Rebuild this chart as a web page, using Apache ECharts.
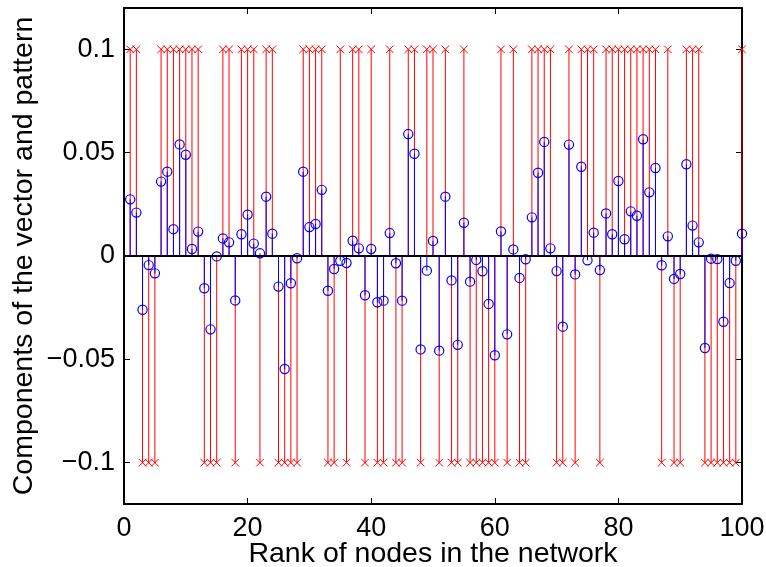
<!DOCTYPE html>
<html>
<head>
<meta charset="utf-8">
<script src="https://cdn.jsdelivr.net/npm/echarts@6/dist/echarts.min.js"></script>
<style>
  html, body { margin: 0; padding: 0; background: #fff; }
  #chart { width: 766px; height: 567px; }
</style>
</head>
<body>
<div id="chart"></div>
<script>
// stem plot: node components (blue o) vs. +-0.1 pattern (red x), ranks 1..100

const RANKS = Array.from({ length: 100 }, (_, i) => i + 1);

// sign of the stored pattern, one per rank
const PATTERN_SIGN = [
   1,  1, -1, -1, -1,  1,  1,  1,  1,  1,
   1,  1, -1, -1, -1,  1,  1, -1,  1,  1,
   1, -1,  1,  1, -1, -1, -1, -1,  1,  1,
   1,  1, -1, -1,  1, -1,  1,  1, -1,  1,
  -1, -1,  1, -1, -1,  1,  1, -1,  1,  1,
  -1,  1, -1, -1,  1, -1, -1, -1, -1, -1,
   1, -1,  1, -1, -1,  1,  1,  1,  1, -1,
  -1,  1, -1,  1,  1,  1, -1,  1,  1,  1,
   1,  1,  1,  1,  1,  1, -1,  1, -1, -1,
   1,  1,  1, -1, -1, -1, -1, -1, -1,  1,
];
const PATTERN_AMP = 0.1;

// components of the vector
const VECTOR = [
   0.0274,  0.0210, -0.0260, -0.0044, -0.0084,  0.0360,  0.0408,  0.0130,  0.0540,  0.0490,
   0.0034,  0.0118, -0.0156, -0.0355, -0.0002,  0.0085,  0.0066, -0.0215,  0.0105,  0.0200,
   0.0060,  0.0013,  0.0287,  0.0108, -0.0148, -0.0547, -0.0132, -0.0011,  0.0408,  0.0140,
   0.0155,  0.0320, -0.0168, -0.0063, -0.0023, -0.0034,  0.0074,  0.0037, -0.0190,  0.0034,
  -0.0224, -0.0216,  0.0111, -0.0035, -0.0216,  0.0590,  0.0495, -0.0452, -0.0071,  0.0073,
  -0.0458,  0.0287, -0.0118, -0.0430,  0.0161, -0.0124, -0.0019, -0.0074, -0.0232, -0.0480,
   0.0119, -0.0379,  0.0032, -0.0106, -0.0016,  0.0187,  0.0403,  0.0552,  0.0037, -0.0073,
  -0.0342,  0.0539, -0.0089,  0.0432, -0.0021,  0.0113, -0.0068,  0.0206,  0.0105,  0.0363,
   0.0081,  0.0216,  0.0195,  0.0565,  0.0308,  0.0426, -0.0045,  0.0095, -0.0111, -0.0087,
   0.0444,  0.0147,  0.0066, -0.0445, -0.0013, -0.0015, -0.0318, -0.0131, -0.0023,  0.0108,
];

const Y_TICKS = [-0.1, -0.05, 0, 0.05, 0.1];
const Y_TICK_LABELS = ["\u22120.1", "\u22120.05", "0", "0.05", "0.1"];

const RED = "#ff0000";
const BLUE = "#0000ff";
const FONT = "Liberation Sans, Arial, Helvetica, sans-serif";

const patternData = RANKS.map((r, i) => [r, PATTERN_SIGN[i] * PATTERN_AMP]);
const vectorData = RANKS.map((r, i) => [r, VECTOR[i]]);

// stem line from 0 to value plus a marker at the tip ('x' or 'o')
function stemSeries(name, data, color, marker, z) {
  return {
    name, type: "custom", data, silent: true, z,
    renderItem(params, api) {
      const x = api.value(0), v = api.value(1);
      const p0 = api.coord([x, 0]);
      const p1 = api.coord([x, v]);
      const line = {
        type: "line",
        shape: { x1: p0[0], y1: p0[1], x2: p1[0], y2: p1[1] },
        style: { stroke: color, lineWidth: 1 },
      };
      if (marker === "x") {
        const h = 3.8;
        const arm = (dy) => ({
          type: "polyline",
          shape: { points: [[p1[0] - h, p1[1] - dy], [p1[0] + h, p1[1] + dy]] },
          style: { stroke: color, lineWidth: 1, fill: null },
        });
        return { type: "group", children: [line, arm(h), arm(-h)] };
      }
      const tip = {
        type: "circle",
        shape: { cx: p1[0], cy: p1[1], r: 4.6 },
        style: { stroke: color, lineWidth: 1.2, fill: null },
      };
      return { type: "group", children: [line, tip] };
    },
  };
}

const axisLine = { show: true, onZero: false, lineStyle: { color: "#000", width: 2 } };
const tickStyle = { inside: true, length: 6, lineStyle: { color: "#000", width: 1 } };

const chart = echarts.init(document.getElementById("chart"), null, { renderer: "canvas" });

chart.setOption({
  backgroundColor: "#fff",
  animation: false,
  grid: { left: 124, right: 24, top: 8, bottom: 63, outerBoundsMode: "none", containLabel: false },
  xAxis: [
    {
      type: "value", min: 0, max: 100, interval: 20, position: "bottom",
      name: "Rank of nodes in the network", nameLocation: "middle", nameGap: 36,
      nameMoveOverlap: false,
      nameTextStyle: { color: "#000", fontSize: 28.5, fontFamily: FONT },
      axisLine, axisTick: tickStyle, splitLine: { show: false },
      axisLabel: { color: "#000", fontSize: 27, fontFamily: FONT, margin: 11 },
    },
    {
      type: "value", min: 0, max: 100, interval: 20, position: "top",
      axisLine, axisTick: tickStyle, splitLine: { show: false },
      axisLabel: { show: false },
    },
  ],
  yAxis: [
    {
      type: "value", min: -0.12, max: 0.12, position: "left",
      name: "Components of the vector and pattern", nameLocation: "middle", nameGap: 85,
      nameRotate: 90, nameMoveOverlap: false,
      nameTextStyle: { color: "#000", fontSize: 28.5, fontFamily: FONT },
      axisLine, splitLine: { show: false },
      axisTick: { ...tickStyle, customValues: Y_TICKS },
      axisLabel: {
        color: "#000", fontSize: 27, fontFamily: FONT, margin: 9,
        customValues: Y_TICKS,
        formatter: v => Y_TICK_LABELS[Y_TICKS.findIndex(t => Math.abs(t - v) < 1e-9)] ?? "",
      },
    },
    {
      type: "value", min: -0.12, max: 0.12, position: "right",
      axisLine, splitLine: { show: false },
      axisTick: { ...tickStyle, customValues: Y_TICKS },
      axisLabel: { show: false },
    },
  ],
  series: [
    stemSeries("pattern", patternData, RED, "x", 2),
    {
      ...stemSeries("vector", vectorData, BLUE, "o", 4),
      markLine: {
        silent: true, symbol: "none", label: { show: false },
        lineStyle: { color: "#000", type: "solid", width: 1.8 },
        data: [{ yAxis: 0 }],
      },
    },
  ],
});
</script>
</body>
</html>
